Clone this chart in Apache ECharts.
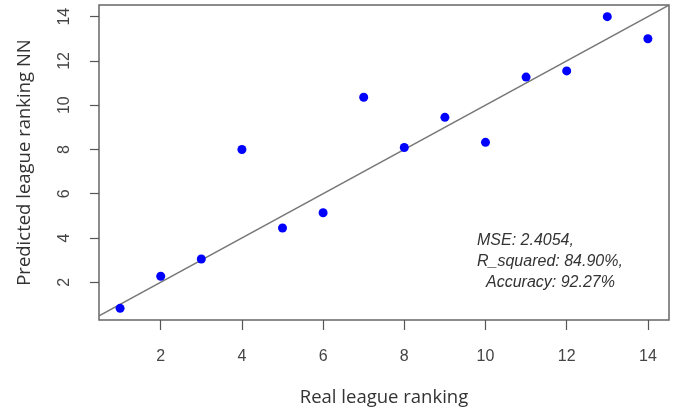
<!DOCTYPE html>
<html>
<head>
<meta charset="utf-8">
<script src="https://cdn.jsdelivr.net/npm/echarts@6/dist/echarts.min.js"></script>
<style>
  html, body { margin: 0; padding: 0; background: #fff; }
  #chart { width: 676px; height: 412px; }
</style>
</head>
<body>
<div id="chart"></div>
<script>
// Real vs predicted league ranking
const realRanking = [1, 2, 3, 4, 5, 6, 7, 8, 9, 10, 11, 12, 13, 14];
const predictedRanking = [0.82, 2.27, 3.05, 8.0, 4.45, 5.14, 10.36, 8.09, 9.45, 8.32, 11.27, 11.55, 14.0, 13.0];
const xTicks = [2, 4, 6, 8, 10, 12, 14];
const yTicks = [2, 4, 6, 8, 10, 12, 14];
const statsLines = ['MSE: 2.4054,', 'R_squared: 84.90%,', 'Accuracy: 92.27%'];

// Axis limits padded by 4% of the data range on each side
function padded(vals) {
  const lo = Math.min(...vals), hi = Math.max(...vals);
  const p = (hi - lo) * 0.04;
  return [lo - p, hi + p];
}
const [xMin, xMax] = padded(realRanking);
const [yMin, yMax] = padded(predictedRanking);

// Identity reference line y = x across the plot
const identity = [[xMin, xMin], [xMax, xMax]];

const tickFont = { fontFamily: 'Liberation Sans, Arial, sans-serif', fontSize: 16, color: '#444' };
const titleFont = { fontFamily: 'Open Sans, sans-serif', fontSize: 18.5, color: '#333' };
const noteFont = 'italic 16px Liberation Sans, Arial, sans-serif';

const chart = echarts.init(document.getElementById('chart'));
chart.setOption({
  animation: false,
  backgroundColor: '#fff',
  grid: {
    left: 99, top: 5, right: 7, bottom: 91,
    show: true, borderColor: '#666', borderWidth: 1.5, backgroundColor: '#fff'
  },
  xAxis: {
    type: 'value', min: xMin, max: xMax,
    name: 'Real league ranking', nameLocation: 'middle', nameGap: 68,
    nameTextStyle: titleFont,
    axisLine: { show: false },
    splitLine: { show: false },
    axisTick: { show: true, length: 10, lineStyle: { color: '#555', width: 1.2 }, customValues: xTicks },
    axisLabel: Object.assign({ margin: 29, customValues: xTicks }, tickFont)
  },
  yAxis: {
    type: 'value', min: yMin, max: yMax,
    name: 'Predicted league ranking NN', nameLocation: 'middle', nameGap: 65, nameRotate: 90,
    nameTextStyle: titleFont,
    axisLine: { show: false },
    splitLine: { show: false },
    axisTick: { show: true, length: 9, lineStyle: { color: '#555', width: 1.2 }, customValues: yTicks },
    axisLabel: Object.assign({ margin: 26, rotate: 90, customValues: yTicks }, tickFont)
  },
  series: [
    {
      type: 'line',
      data: identity,
      showSymbol: false,
      lineStyle: { color: '#777', width: 1.6 },
      silent: true,
      z: 1
    },
    {
      type: 'scatter',
      data: realRanking.map((x, i) => [x, predictedRanking[i]]),
      symbol: 'circle',
      symbolSize: 9,
      itemStyle: { color: '#0000ff', opacity: 1 },
      z: 3
    }
  ],
  graphic: [
    { type: 'text', left: 477, top: 233, style: { text: statsLines[0], font: noteFont, fill: '#333' } },
    { type: 'text', left: 477, top: 254, style: { text: statsLines[1], font: noteFont, fill: '#333' } },
    { type: 'text', left: 486, top: 275, style: { text: statsLines[2], font: noteFont, fill: '#333' } }
  ]
});
</script>
</body>
</html>
